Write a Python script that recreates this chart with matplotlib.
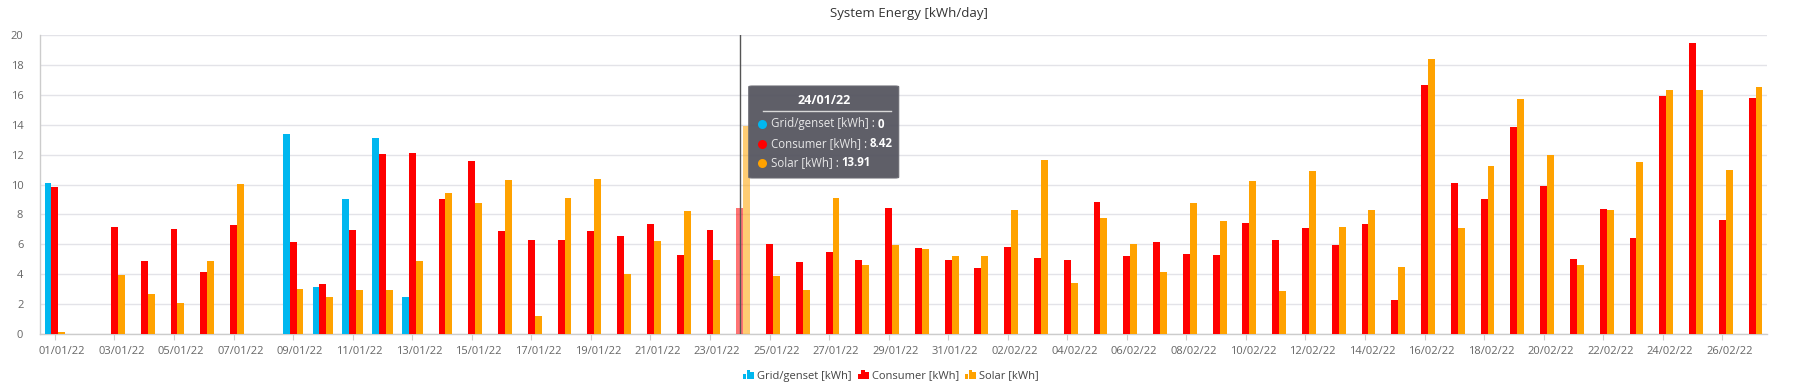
import numpy as np
import pandas as pd
import matplotlib
matplotlib.use("Agg")
import matplotlib.pyplot as plt
from matplotlib.patches import Rectangle, FancyBboxPatch
from matplotlib.legend_handler import HandlerBase
from matplotlib.transforms import ScaledTranslation

# daily values (kWh)
days = pd.date_range("2022-01-01", "2022-02-27").strftime("%d/%m/%y").tolist()

grid = [10.11, 0, 0, 0, 0, 0, 0, 0, 13.39, 3.12, 9.04, 13.14, 2.45, 0, 0, 0,
        0, 0, 0, 0, 0, 0, 0, 0, 0, 0, 0, 0, 0, 0, 0,
        0, 0, 0, 0, 0, 0, 0, 0, 0, 0, 0, 0, 0, 0, 0,
        0, 0, 0, 0, 0, 0, 0, 0, 0, 0, 0, 0]

consumer = [9.80, 0, 7.15, 4.90, 7.02, 4.16, 7.31, 0, 6.15, 3.34, 6.97, 12.07,
            12.09, 9.00, 11.56, 6.90, 6.30, 6.30, 6.86, 6.55, 7.33, 5.26, 6.93,
            8.42, 6.01, 4.81, 5.46, 4.92, 8.42, 5.77, 4.92,
            4.41, 5.79, 5.10, 4.97, 8.80, 5.21, 6.15, 5.32, 5.30, 7.44, 6.30,
            7.08, 5.97, 7.39, 2.25, 16.66, 10.11, 9.00, 13.85, 9.93, 5.01,
            8.35, 6.39, 15.90, 19.49, 7.64, 15.79]

solar = [0.11, 0, 3.94, 2.65, 2.05, 4.86, 10.04, 0, 2.98, 2.45, 2.96, 2.94,
         4.86, 9.40, 8.73, 10.31, 1.18, 9.11, 10.38, 4.01, 6.21, 8.22, 4.97,
         13.91, 3.88, 2.92, 9.11, 4.61, 5.95, 5.70, 5.23,
         5.23, 8.29, 11.65, 3.41, 7.75, 6.01, 4.14, 8.73, 7.57, 10.22, 2.90,
         10.89, 7.15, 8.31, 4.45, 18.37, 7.08, 11.27, 15.75, 11.94, 4.63,
         8.29, 11.51, 16.30, 16.30, 10.98, 16.50]

series_names = ["Grid/genset [kWh]", "Consumer [kWh]", "Solar [kWh]"]
series_colors = ["#00b7ef", "#ff0000", "#ffa200"]
hover_day = "24/01/22"

plt.rcParams["font.family"] = ["Open Sans", "DejaVu Sans"]

W, H, DPI = 1818, 391, 100
fig = plt.figure(figsize=(W / DPI, H / DPI), dpi=DPI)
# plot area in pixels: x 40..1767, y 35..334 (top origin)
ax = fig.add_axes([40 / W, (H - 334) / H, (1767 - 40) / W, (334 - 35) / H])

x = np.arange(len(days))
bw = 0.232
hover = days.index(hover_day)

for k, (vals, col) in enumerate(zip([grid, consumer, solar], series_colors)):
    vals = np.array(vals, dtype=float)
    alphas = np.where(x == hover, 0.55, 1.0)
    for xi, v, a in zip(x, vals, alphas):
        if v > 0:
            ax.bar(xi + (k - 1) * bw, v, width=bw, color=col, alpha=a,
                   linewidth=0, zorder=3)

ax.set_xlim(-0.5, len(days) - 0.5)
ax.set_ylim(0, 20)
ax.set_yticks(np.arange(0, 21, 2))
ax.grid(axis="y", color="#e3e3e8", linewidth=1, zorder=0)
ax.set_xticks(x[::2])
ax.set_xticklabels(days[::2])
ax.tick_params(axis="y", length=0, pad=12, labelsize=8, labelcolor="#666666")
ax.tick_params(axis="x", length=4, color="#cccccc", pad=5, labelsize=8,
               labelcolor="#666666")
for sp in ["top", "right"]:
    ax.spines[sp].set_visible(False)
for sp in ["left", "bottom"]:
    ax.spines[sp].set_color("#cccccc")
    ax.spines[sp].set_linewidth(1)

# labels in the original sit a few pixels right of their ticks
shift = ScaledTranslation(7 / DPI, 0, fig.dpi_scale_trans)
for lab in ax.get_xticklabels():
    lab.set_transform(lab.get_transform() + shift)

fig.text(0.5, 1 - 13 / H, "System Energy [kWh/day]", ha="center", va="center",
         fontsize=9.5, color="#333333")


# legend with little bar-chart icons
class BarIcon(HandlerBase):
    def create_artists(self, legend, orig_handle, xdescent, ydescent,
                       width, height, fontsize, trans):
        col = orig_handle.get_facecolor()
        out = []
        w = width / 3
        for i, h in enumerate([0.55, 1.0, 0.7]):
            r = Rectangle((-xdescent + i * w, -ydescent), w * 0.95,
                          height * 1.1 * h, facecolor=col, edgecolor="none",
                          transform=trans)
            out.append(r)
        return out


handles = [Rectangle((0, 0), 1, 1, facecolor=c) for c in series_colors]
fig.legend(handles, series_names, handler_map={Rectangle: BarIcon()},
           loc="center", bbox_to_anchor=(891 / W, 1 - 376 / H), ncol=3,
           frameon=False, fontsize=8, handlelength=1.0, handleheight=0.8,
           handletextpad=0.3, columnspacing=0.5, labelcolor="#444444")

# hover crosshair + tooltip
ax.axvline(hover, color="#555555", linewidth=1, zorder=4)

fig.canvas.draw()
rend = fig.canvas.get_renderer()
px, _ = ax.transData.transform((hover, 0))
tx0 = px + 9          # tooltip left, pixels from left
ty0 = H - 178         # tooltip bottom, pixels from bottom
tw, th = 150, 92


def fx(p):
    return p / W


def fy(p):
    return p / H


box = FancyBboxPatch((fx(tx0), fy(ty0)), fx(tw), fy(th),
                     boxstyle="round,pad=0,rounding_size=0.002",
                     transform=fig.transFigure, facecolor="#585862",
                     edgecolor="#6a6a72", linewidth=0.8, alpha=0.96, zorder=10)
fig.patches.append(box)
fig.text(fx(tx0 + tw / 2), fy(H - 100), hover_day, ha="center", va="center",
         fontsize=9, color="white", fontweight="bold", zorder=11)
fig.add_artist(plt.Line2D([fx(tx0 + 14), fx(tx0 + tw - 8)],
                          [fy(H - 111), fy(H - 111)], color="#d8d8d8",
                          linewidth=1, transform=fig.transFigure, zorder=11))

for i, vals in enumerate([grid, consumer, solar]):
    yy = H - (124 + i * 19.5)
    fig.add_artist(plt.Line2D([fx(tx0 + 13)], [fy(yy)], marker="o",
                              markersize=6.5, markerfacecolor=series_colors[i],
                              markeredgewidth=0, linestyle="none",
                              transform=fig.transFigure, zorder=11))
    t = fig.text(fx(tx0 + 22), fy(yy), series_names[i] + " : ", ha="left",
                 va="center", fontsize=8.3, color="#e8e8e8", zorder=11)
    bb = t.get_window_extent(renderer=rend)
    fig.text(bb.x1 / W, fy(yy), f"{vals[hover]:g}", ha="left", va="center",
             fontsize=8.3, color="white", fontweight="bold", zorder=11)

fig.savefig("out.png", dpi=DPI)
